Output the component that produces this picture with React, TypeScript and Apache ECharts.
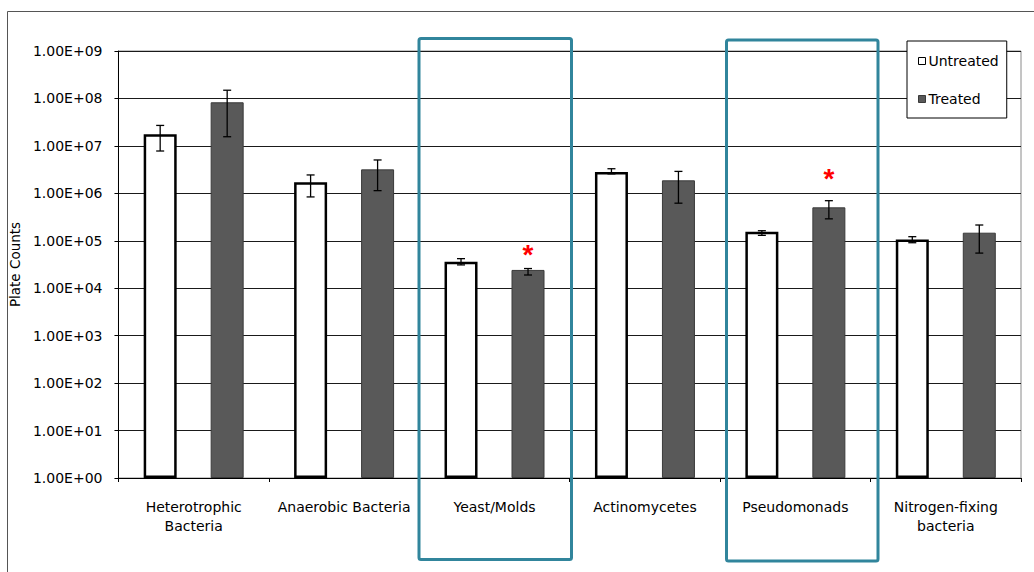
import React, { useEffect, useRef } from "react";
import * as echarts from "echarts";

const categories = [
  "Heterotrophic\nBacteria",
  "Anaerobic Bacteria",
  "Yeast/Molds",
  "Actinomycetes",
  "Pseudomonads",
  "Nitrogen-fixing\nbacteria",
];
const untreated = [1.76e7, 1.71e6, 3.6e4, 2.8e6, 1.55e5, 1.07e5];
const untreatedHigh = [2.7e7, 2.44e6, 4.2e4, 3.3e6, 1.63e5, 1.22e5];
const untreatedLow = [7.8e6, 8.4e5, 3.1e4, 2.57e6, 1.3e5, 9.1e4];
const treated = [8.3e7, 3.2e6, 2.43e4, 1.88e6, 5.07e5, 1.48e5];
const treatedHigh = [1.49e8, 5.05e6, 2.6e4, 2.9e6, 7.0e5, 2.15e5];
const treatedLow = [1.56e7, 1.14e6, 1.9e4, 6.2e5, 2.9e5, 5.5e4];
// position of the significance asterisk (value scale), null = none
const significance = [null, null, 5.2e4, null, 2.1e6, null];
const yTickLabels = [
  "1.00E+00",
  "1.00E+01",
  "1.00E+02",
  "1.00E+03",
  "1.00E+04",
  "1.00E+05",
  "1.00E+06",
  "1.00E+07",
  "1.00E+08",
  "1.00E+09",
];

const FONT = "DejaVu Sans";
const BAR_W = 33;
const OFFSET = 33.5;

function errorSeries(name: string, low: number[], high: number[], offset: number) {
  return {
    type: "custom",
    name: name + " error",
    silent: true,
    z: 5,
    data: low.map((l, i) => [i, l, high[i]]),
    renderItem: (params: any, api: any) => {
      const idx = api.value(0);
      const pLow = api.coord([idx, api.value(1)]);
      const pHigh = api.coord([idx, api.value(2)]);
      const x = pLow[0] + offset;
      const cap = 4;
      const style = { stroke: "#000", lineWidth: 1.3 };
      return {
        type: "group",
        children: [
          { type: "line", shape: { x1: x, y1: pLow[1], x2: x, y2: pHigh[1] }, style },
          { type: "line", shape: { x1: x - cap, y1: pLow[1], x2: x + cap, y2: pLow[1] }, style },
          { type: "line", shape: { x1: x - cap, y1: pHigh[1], x2: x + cap, y2: pHigh[1] }, style },
        ],
      };
    },
  };
}

export default function App() {
  const ref = useRef<HTMLDivElement>(null);
  useEffect(() => {
    if (!ref.current) return;
    const chart = echarts.init(ref.current, null, { renderer: "svg" });
    const starData = significance
      .map((v, i) => (v == null ? null : [i, v]))
      .filter((d) => d != null);
    chart.setOption({
      animation: false,
      backgroundColor: "#fff",
      grid: {
        left: 116,
        right: 13,
        top: 51,
        bottom: 94,
        show: true,
        borderColor: "#8a8a8a",
        borderWidth: 1,
        backgroundColor: "transparent",
      },
      legend: {
        orient: "vertical",
        left: 907,
        top: 41,
        itemWidth: 7,
        itemHeight: 7,
        itemGap: 24,
        padding: [13, 8, 12, 11],
        backgroundColor: "#fff",
        borderColor: "#000",
        borderWidth: 1,
        borderRadius: 0,
        icon: "rect",
        itemStyle: { borderWidth: 1 },
        textStyle: { fontFamily: FONT, fontSize: 14, color: "#000", padding: [0, 0, 0, -2] },
        data: ["Untreated", "Treated"],
        z: 20,
      },
      xAxis: {
        type: "category",
        data: categories,
        axisLine: { lineStyle: { color: "#000", width: 1 } },
        axisTick: { show: true, length: 4, lineStyle: { color: "#000" } },
        axisLabel: {
          interval: 0,
          margin: 19,
          fontFamily: FONT,
          fontSize: 14,
          color: "#000",
          lineHeight: 19,
        },
        splitLine: { show: false },
      },
      yAxis: {
        type: "log",
        logBase: 10,
        min: 1,
        max: 1e9,
        splitNumber: 9,
        name: "Plate Counts",
        nameLocation: "middle",
        nameGap: 94,
        nameTextStyle: { fontFamily: FONT, fontSize: 13.5, color: "#000" },
        axisLine: { show: true, lineStyle: { color: "#000", width: 1 } },
        axisTick: { show: true, length: 4, lineStyle: { color: "#000" } },
        axisLabel: {
          margin: 16,
          fontFamily: FONT,
          fontSize: 14,
          color: "#000",
          formatter: (v: number) => yTickLabels[Math.round(Math.log10(v))] ?? "",
        },
        splitLine: { show: true, lineStyle: { color: "#1a1a1a", width: 1 } },
      },
      series: [
        {
          type: "bar",
          name: "Untreated",
          data: untreated,
          barWidth: BAR_W,
          barGap: "103%",
          itemStyle: { color: "#fff", borderColor: "#000", borderWidth: 2.5 },
          z: 3,
        },
        {
          type: "bar",
          name: "Treated",
          data: treated,
          barWidth: BAR_W,
          itemStyle: { color: "#595959", borderColor: "#3a3a3a", borderWidth: 1 },
          z: 3,
        },
        errorSeries("Untreated", untreatedLow, untreatedHigh, -OFFSET),
        errorSeries("Treated", treatedLow, treatedHigh, OFFSET),
        {
          type: "custom",
          name: "significance",
          silent: true,
          z: 6,
          data: starData,
          renderItem: (params: any, api: any) => {
            const p = api.coord([api.value(0), api.value(1)]);
            return {
              type: "text",
              x: p[0] + OFFSET,
              y: p[1],
              style: {
                text: "*",
                fill: "#ff0000",
                font: "bold 28px 'Liberation Sans'",
                textAlign: "center",
                textVerticalAlign: "middle",
              },
            };
          },
        },
      ],
      graphic: [
        {
          type: "rect",
          z: 0,
          silent: true,
          shape: { x: 7.5, y: 11.5, width: 1200, height: 800 },
          style: { fill: "none", stroke: "#555", lineWidth: 1 },
        },
        {
          type: "rect",
          z: 100,
          silent: true,
          shape: { x: 419, y: 38.5, width: 152.5, height: 521, r: 2 },
          style: { fill: "none", stroke: "#31859c", lineWidth: 3 },
        },
        {
          type: "rect",
          z: 100,
          silent: true,
          shape: { x: 726.5, y: 40, width: 151.5, height: 521, r: 2 },
          style: { fill: "none", stroke: "#31859c", lineWidth: 3 },
        },
      ],
    });
    return () => chart.dispose();
  }, []);
  return (
    <div
      ref={ref}
      style={{ position: "fixed", left: 0, top: 0, width: 1034, height: 572 }}
    />
  );
}
